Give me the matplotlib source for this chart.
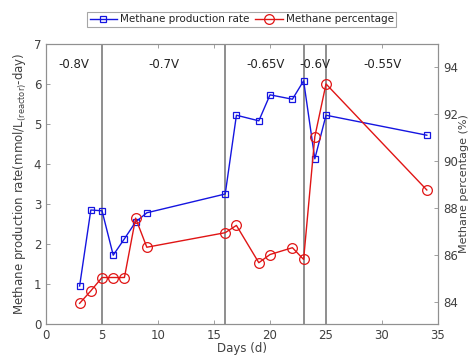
import matplotlib.pyplot as plt
import numpy as np

days = [3, 4, 5, 6, 7, 8, 9, 16, 17, 19, 20, 22, 23, 24, 25, 34]
rate = [0.95, 2.85, 2.83, 1.72, 2.13, 2.55, 2.78, 3.25, 5.22, 5.08, 5.73, 5.62, 6.08, 4.13, 5.22, 4.72]
percent = [83.93, 84.46, 85.03, 85.03, 85.03, 87.56, 86.32, 86.94, 87.25, 85.66, 86.01, 86.3, 85.8, 91.03, 93.28, 88.76]

switch_days = [5, 16, 23, 25]
phase_labels = ['-0.8V', '-0.7V', '-0.65V', '-0.6V', '-0.55V']
phase_x = [2.5, 10.5, 19.6, 24.0, 30.0]

txt = '#404040'
plt.rcParams['font.family'] = ['DejaVu Sans']
plt.rcParams['font.size'] = 8.5

fig = plt.figure(figsize=(4.72, 3.64), dpi=100)
ax = fig.add_axes([0.0975, 0.11, 0.8305, 0.769])
ax2 = ax.twinx()

for d in switch_days:
    ax.axvline(d, color='#707070', lw=1.1, zorder=1)

l1, = ax.plot(days, rate, color='#1515e0', lw=1.0, marker='s', ms=5,
              mfc='none', mec='#1515e0', mew=0.9, label='Methane production rate', zorder=3)
l2, = ax2.plot(days, percent, color='#e01515', lw=1.0, marker='o', ms=7,
               mfc='none', mec='#e01515', mew=0.9, label='Methane percentage', zorder=3)

for lab, x in zip(phase_labels, phase_x):
    ax.text(x, 6.5, lab, ha='center', va='center', color='#222222', fontsize=8.5)

ax.set_xlim(0, 35)
ax.set_ylim(0, 7)
ax2.set_ylim(83.05, 94.98)
ax.set_xticks(np.arange(0, 36, 5))
ax.set_yticks(np.arange(0, 8, 1))
ax2.set_yticks([84, 86, 88, 90, 92, 94])

for a in (ax, ax2):
    for s in a.spines.values():
        s.set_color('#909090')
        s.set_linewidth(0.8)
    a.tick_params(direction='in', colors='#909090', labelcolor=txt, length=3, width=0.6)
ax.tick_params(top=True)

ax.set_xlabel('Days (d)', color=txt, labelpad=0)
ax.set_ylabel('Methane production rate(mmol/L$_{\\mathrm{(reactor)}}$-day)', color=txt, labelpad=3)
ax2.set_ylabel('Methane percentage (%)', color=txt, labelpad=1, fontsize=8)

leg = fig.legend(handles=[l1, l2], loc='center', bbox_to_anchor=(0.512, 0.947), ncol=2,
                 frameon=True, fancybox=False, edgecolor='#909090', fontsize=7.5,
                 handlelength=2.6, columnspacing=0.6, handletextpad=0.3, borderpad=0.25)
leg.get_frame().set_linewidth(0.8)
for t in leg.get_texts():
    t.set_color('#222222')

fig.savefig('out.png', dpi=100)
